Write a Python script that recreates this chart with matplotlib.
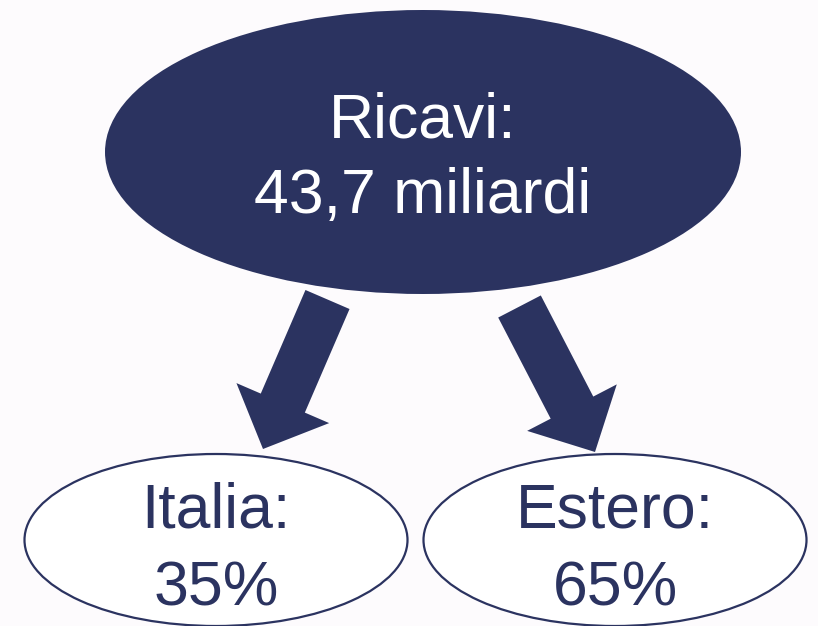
import matplotlib
matplotlib.use("Agg")
import matplotlib.pyplot as plt
from matplotlib.patches import Ellipse, FancyArrow

# testi del diagramma
titolo = ["Ricavi:", "43,7 miliardi"]
voci = ["Italia:", "Estero:"]
quote = [35, 65]

navy = "#2b3360"
sfondo = "#fdfbfd"

fig = plt.figure(figsize=(8.18, 6.26), dpi=100, facecolor=sfondo)
ax = fig.add_axes([0, 0, 1, 1])
ax.set_xlim(0, 818)
ax.set_ylim(626, 0)
ax.set_facecolor(sfondo)
ax.axis("off")

# ellisse principale
ax.add_patch(Ellipse((423, 152), 636, 284, facecolor=navy, edgecolor="none"))
ax.text(423, 137, titolo[0], color="white", fontsize=45, family="Liberation Sans",
        ha="center", va="baseline")
ax.text(423, 213, titolo[1], color="white", fontsize=45, family="Liberation Sans",
        ha="center", va="baseline")

# frecce e ellissi figlie
centri = [(216, 540), (615, 540)]
code = [(327.5, 299.5), (519.5, 306.5)]
punte = [(263, 449), (595, 452)]
for (cx, cy), (x0, y0), (x1, y1), nome, q in zip(centri, code, punte, voci, quote):
    ax.add_patch(FancyArrow(x0, y0, x1 - x0, y1 - y0, width=48, head_width=101,
                            head_length=50, length_includes_head=True,
                            facecolor=navy, edgecolor="none"))
    ax.add_patch(Ellipse((cx, cy), 383, 172, facecolor="white", edgecolor=navy, linewidth=1.6))
    ax.text(cx, 527, nome, color=navy, fontsize=45, family="Liberation Sans",
            ha="center", va="baseline")
    ax.text(cx, 605, f"{q}%", color=navy, fontsize=45, family="Liberation Sans",
            ha="center", va="baseline")

fig.savefig("out.png", dpi=100, facecolor=sfondo)
